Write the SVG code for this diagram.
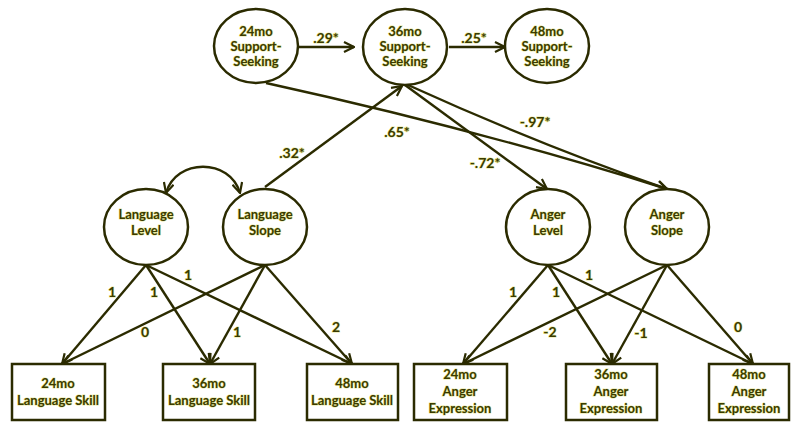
<svg xmlns="http://www.w3.org/2000/svg" width="791" height="422" viewBox="0 0 791 422">
<style>
.n{fill:#fff;stroke:#2b2b00;stroke-width:2.5}
.t{font-family:Lato,"Liberation Sans",sans-serif;font-weight:bold;font-size:13px;fill:#3a3a00;text-anchor:middle;stroke:#c8c800;stroke-width:1.2;stroke-opacity:.45;paint-order:stroke}
.l{font-size:14px}
.c{fill:none;stroke:#2b2b00;stroke-width:2.4}
</style>
<defs>
<marker id="a" viewBox="0 0 12 12" refX="11" refY="6" markerWidth="12" markerHeight="12" markerUnits="userSpaceOnUse" orient="auto-start-reverse">
<path d="M1,1 L11,6 L1,11" fill="none" stroke="#2b2b00" stroke-width="2.2"/>
</marker>
</defs>
<rect width="791" height="422" fill="#fff"/>
<g id="connectors">
<line class="c" x1="299" y1="47" x2="354" y2="47" marker-end="url(#a)"/>
<line class="c" x1="449" y1="47" x2="505" y2="47" marker-end="url(#a)"/>
<path class="c" d="M166 193 C176 158 230 158 240 193" marker-start="url(#a)" marker-end="url(#a)"/>
<line class="c" x1="265" y1="187" x2="402" y2="86" marker-end="url(#a)"/>
<path class="c" d="M266 83 Q480 130 667 189" marker-end="url(#a)"/>
<line class="c" x1="405" y1="85" x2="547" y2="189" marker-end="url(#a)"/>
<path class="c" d="M408 85 Q540 145 667 189" marker-end="url(#a)"/>
<line class="c" x1="146" y1="265" x2="62" y2="364" marker-end="url(#a)"/>
<line class="c" x1="146" y1="265" x2="210" y2="364" marker-end="url(#a)"/>
<line class="c" x1="146" y1="265" x2="352" y2="364" marker-end="url(#a)"/>
<line class="c" x1="265" y1="265" x2="62" y2="364" marker-end="url(#a)"/>
<line class="c" x1="265" y1="265" x2="210" y2="364" marker-end="url(#a)"/>
<line class="c" x1="265" y1="265" x2="352" y2="364" marker-end="url(#a)"/>
<line class="c" x1="548" y1="265" x2="463" y2="364" marker-end="url(#a)"/>
<line class="c" x1="548" y1="265" x2="612" y2="364" marker-end="url(#a)"/>
<line class="c" x1="548" y1="265" x2="753" y2="364" marker-end="url(#a)"/>
<line class="c" x1="667" y1="265" x2="463" y2="364" marker-end="url(#a)"/>
<line class="c" x1="667" y1="265" x2="612" y2="364" marker-end="url(#a)"/>
<line class="c" x1="667" y1="265" x2="753" y2="364" marker-end="url(#a)"/>
<g class="t l">
<text x="326" y="43">.29*</text>
<text x="474" y="43">.25*</text>
<text x="292" y="158">.32*</text>
<text x="397" y="137">.65*</text>
<text x="485" y="168">-.72*</text>
<text x="535" y="127">-.97*</text>
<text x="112" y="297">1</text>
<text x="154" y="297">1</text>
<text x="188" y="280">1</text>
<text x="145" y="337">0</text>
<text x="237" y="337">1</text>
<text x="336" y="332">2</text>
<text x="513" y="297">1</text>
<text x="556" y="297">1</text>
<text x="589" y="280">1</text>
<text x="550" y="337">-2</text>
<text x="641" y="338">-1</text>
<text x="738" y="332">0</text>
</g>
</g>
<g id="ss24"><ellipse class="n" cx="256" cy="46" rx="42" ry="37"/><text class="t" x="256" y="36">24mo</text><text class="t" x="256" y="51">Support-</text><text class="t" x="256" y="66">Seeking</text></g>
<g id="ss36"><ellipse class="n" cx="405" cy="47" rx="42" ry="38"/><text class="t" x="405" y="36">36mo</text><text class="t" x="405" y="51">Support-</text><text class="t" x="405" y="66">Seeking</text></g>
<g id="ss48"><ellipse class="n" cx="547" cy="46" rx="42" ry="37"/><text class="t" x="547" y="36">48mo</text><text class="t" x="547" y="51">Support-</text><text class="t" x="547" y="66">Seeking</text></g>
<g id="langLevel"><ellipse class="n" cx="146" cy="227" rx="42" ry="38"/><text class="t" x="146" y="219">Language</text><text class="t" x="146" y="235">Level</text></g>
<g id="langSlope"><ellipse class="n" cx="265" cy="227" rx="42" ry="38"/><text class="t" x="265" y="219">Language</text><text class="t" x="265" y="235">Slope</text></g>
<g id="angerLevel"><ellipse class="n" cx="548" cy="227" rx="42" ry="38"/><text class="t" x="548" y="219">Anger</text><text class="t" x="548" y="235">Level</text></g>
<g id="angerSlope"><ellipse class="n" cx="667" cy="227" rx="42" ry="38"/><text class="t" x="667" y="219">Anger</text><text class="t" x="667" y="235">Slope</text></g>
<g id="lang24"><rect class="n" x="12" y="364" width="93" height="56"/><text class="t" x="58" y="388">24mo</text><text class="t" x="58" y="405">Language Skill</text></g>
<g id="lang36"><rect class="n" x="163" y="364" width="92" height="56"/><text class="t" x="209" y="388">36mo</text><text class="t" x="209" y="405">Language Skill</text></g>
<g id="lang48"><rect class="n" x="307" y="364" width="91" height="56"/><text class="t" x="352" y="388">48mo</text><text class="t" x="352" y="405">Language Skill</text></g>
<g id="anger24"><rect class="n" x="414" y="364" width="93" height="56"/><text class="t" x="460" y="379">24mo</text><text class="t" x="460" y="396">Anger</text><text class="t" x="460" y="413">Expression</text></g>
<g id="anger36"><rect class="n" x="566" y="364" width="91" height="56"/><text class="t" x="611" y="379">36mo</text><text class="t" x="611" y="396">Anger</text><text class="t" x="611" y="413">Expression</text></g>
<g id="anger48"><rect class="n" x="709" y="364" width="80" height="56"/><text class="t" x="749" y="379">48mo</text><text class="t" x="749" y="396">Anger</text><text class="t" x="749" y="413">Expression</text></g>
</svg>
